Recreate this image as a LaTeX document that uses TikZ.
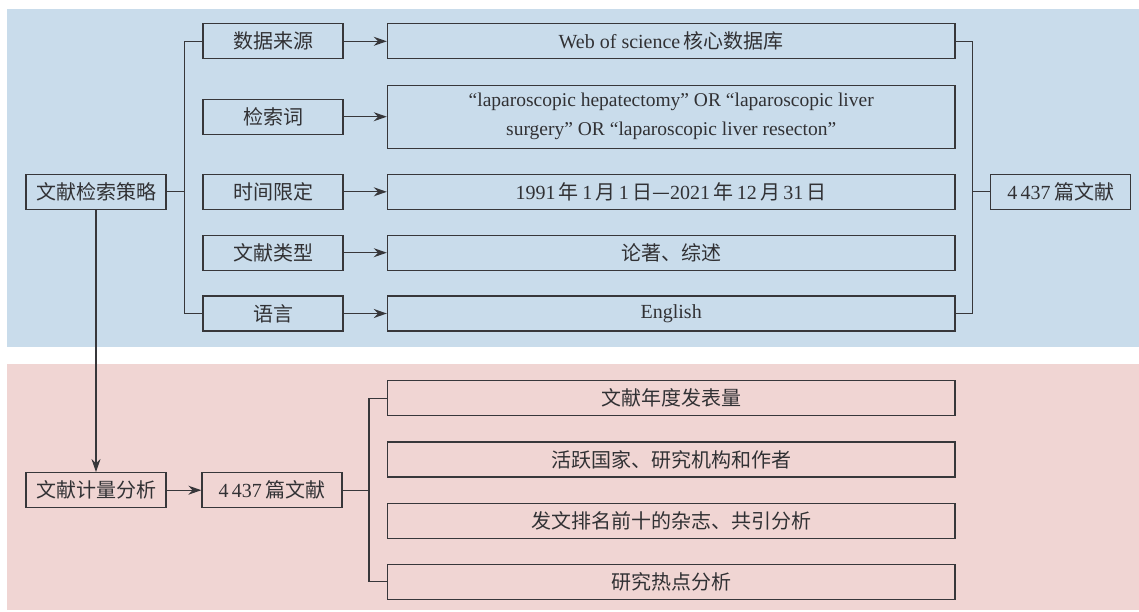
\documentclass[tikz,border=0pt]{standalone}
\usepackage{fontspec}
\setmainfont{Liberation Serif}
\newfontfamily\cjk{Noto Sans CJK SC}
\usetikzlibrary{arrows.meta}
\definecolor{bluebg}{RGB}{201,220,235}
\definecolor{pinkbg}{RGB}{240,213,211}
\definecolor{linec}{RGB}{55,55,58}
\tikzset{
  box/.style={draw=linec, line width=1.3pt, rectangle, inner sep=0pt, minimum height=35pt, align=center, font=\fontsize{20}{26}\selectfont, text=linec!90!black},
  smallbox/.style={box, minimum width=140pt},
  widebox/.style={box, minimum width=567.5pt},
  conn/.style={draw=linec, line width=1.3pt},
  arr/.style={conn, -{Stealth[length=13pt,width=9pt]}}
}
\begin{document}
\begin{tikzpicture}[x=1pt,y=-1pt]
\useasboundingbox (0,0) rectangle (1139,611);
\fill[bluebg] (7,9) rectangle (1139,347);
\fill[pinkbg] (7,364) rectangle (1139,610);
% top section
\node[smallbox] (s) at (96,191.8) {\cjk 文献检索策略};
\node[smallbox] (l1) at (273,41.3) {\cjk 数据来源};
\node[smallbox] (l2) at (273,116.7) {\cjk 检索词};
\node[smallbox] (l3) at (273,191.8) {\cjk 时间限定};
\node[smallbox] (l4) at (273,252.7) {\cjk 文献类型};
\node[smallbox] (l5) at (273,313.5) {\cjk 语言};
\node[widebox] (r1) at (671.2,41.3) {Web of science\,{\cjk 核心数据库}};
\node[widebox, minimum height=63pt, font=\fontsize{19.5}{29}\selectfont] (r2) at (671.2,116.7) {“laparoscopic hepatectomy” OR “laparoscopic liver\\surgery” OR “laparoscopic liver resecton”};
\node[widebox] (r3) at (671.2,191.8) {1991\,{\cjk 年}\,1\,{\cjk 月}\,1\,{\cjk 日—}2021\,{\cjk 年}\,12\,{\cjk 月}\,31\,{\cjk 日}};
\node[widebox] (r4) at (671.2,252.7) {\cjk 论著、综述};
\node[widebox] (r5) at (671.2,313.5) {English};
\node[smallbox] (o) at (1060.7,191.8) {4\,437\,{\cjk 篇文献}};
\coordinate (lb) at (184.7,0);
\coordinate (rb) at (972.7,0);
\draw[conn] (l1.west) -| (lb |- s.east) |- (l5.west);
\draw[conn] (s.east) -- (lb |- s.east);
\draw[conn] (r1.east) -| (rb |- o.west) |- (r5.east);
\draw[conn] (rb |- o.west) -- (o.west);
\foreach \i in {1,...,5}{\draw[arr] (l\i.east) -- (r\i.west);}
% bottom section
\node[smallbox] (m) at (96,490.2) {\cjk 文献计量分析};
\node[smallbox] (n) at (272,490.2) {4\,437\,{\cjk 篇文献}};
\node[widebox] (a1) at (671.2,398.2) {\cjk 文献年度发表量};
\node[widebox] (a2) at (671.2,459.5) {\cjk 活跃国家、研究机构和作者};
\node[widebox] (a3) at (671.2,520.8) {\cjk 发文排名前十的杂志、共引分析};
\node[widebox] (a4) at (671.2,581.8) {\cjk 研究热点分析};
\coordinate (bb) at (369,0);
\draw[arr] (s.south) -- (m.north);
\draw[arr] (m.east) -- (n.west);
\draw[conn] (a1.west) -| (bb |- n.east) |- (a4.west);
\draw[conn] (n.east) -- (bb |- n.east);
\end{tikzpicture}
\end{document}
